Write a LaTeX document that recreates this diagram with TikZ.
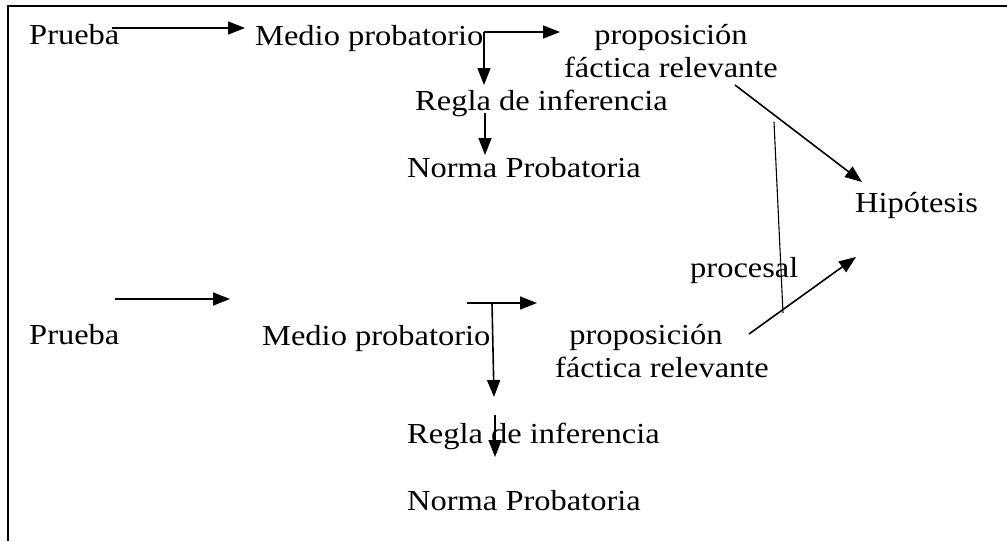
\documentclass[tikz,border=0pt]{standalone}
\usepackage{fontspec}
\setmainfont[FakeStretch=1.12]{Liberation Serif}
\usetikzlibrary{arrows.meta}
\tikzset{
  txt/.style={anchor=base west, inner sep=0pt, font=\fontsize{29}{33}\selectfont},
  flecha/.style={-{Triangle[length=17pt,width=13pt]}, line width=1.6pt},
}
\begin{document}
\begin{tikzpicture}[x=1pt,y=-1pt]
  \useasboundingbox (0,0) rectangle (1007,541);
  \draw[line width=1.6pt] (1007,6) -- (8,6) -- (8,541);
  % upper chain
  \draw
    (29,44) node[txt] (prueba1){Prueba}
    (255,45) node[txt] (medio1){Medio probatorio}
    (671,77) node[txt, anchor=base, align=center] (prop1){proposición\\fáctica relevante}
    (415,110) node[txt] (regla1){Regla de inferencia}
    (407,177) node[txt] (norma1){Norma Probatoria}
    (855,212) node[txt] (hip){Hipótesis}
    (690,277) node[txt] (procesal){procesal};
  % lower chain
  \draw
    (29,344) node[txt] (prueba2){Prueba}
    (262,345) node[txt] (medio2){Medio probatorio}
    (662,377) node[txt, anchor=base, align=center] (prop2){proposición\hspace*{32pt}\\fáctica relevante}
    (407,443) node[txt] (regla2){Regla de inferencia}
    (407,510) node[txt] (norma2){Norma Probatoria};
  \coordinate (a1) at (112,28);  \coordinate (b1) at (245,28);
  \coordinate (c1) at (484,32);  \coordinate (d1) at (560,32);
  \coordinate (e1) at (484,85);
  \coordinate (f1) at (485,113); \coordinate (g1) at (485,155);
  \coordinate (h1) at (735,85);  \coordinate (k1) at (862,182);
  \coordinate (a2) at (115,299); \coordinate (b2) at (230,299);
  \coordinate (c2) at (467,303); \coordinate (d2) at (537,303);
  \coordinate (m2) at (492,303); \coordinate (e2) at (494,397);
  \coordinate (f2) at (495,415); \coordinate (g2) at (495,457);
  \coordinate (h2) at (749,334); \coordinate (k2) at (856,257);
  \coordinate (s1) at (774,122); \coordinate (s2) at (783,313);
  \begin{scope}[flecha]
    \draw (a1) to (b1);
    \draw (c1) to (d1);
    \draw (c1) to (e1);
    \draw (f1) to (g1);
    \draw (h1) to (k1);
    \draw (a2) to (b2);
    \draw (c2) to (d2);
    \draw (m2) to (e2);
    \draw (f2) to (g2);
    \draw (h2) to (k2);
  \end{scope}
  \draw[line width=1.1pt] (s1) -- (s2);
\end{tikzpicture}
\end{document}
